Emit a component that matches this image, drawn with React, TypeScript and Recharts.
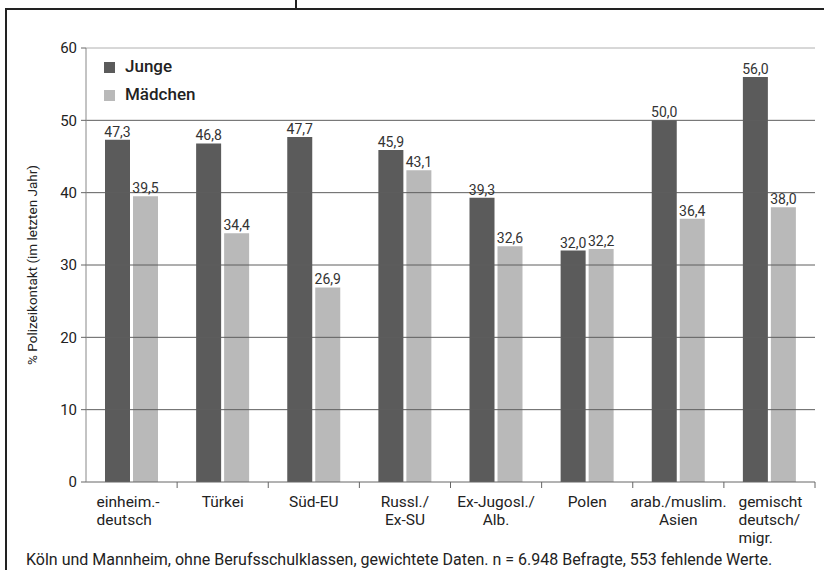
import React from "react";
import { BarChart, Bar, XAxis, YAxis, ReferenceLine, LabelList } from "recharts";

const categories = [
  "einheim.-\ndeutsch",
  "Türkei",
  "Süd-EU",
  "Russl./\nEx-SU",
  "Ex-Jugosl./\nAlb.",
  "Polen",
  "arab./muslim.\nAsien",
  "gemischt\ndeutsch/\nmigr.",
];
const junge = [47.3, 46.8, 47.7, 45.9, 39.3, 32.0, 50.0, 56.0];
const maedchen = [39.5, 34.4, 26.9, 43.1, 32.6, 32.2, 36.4, 38.0];
const yTicks = [0, 10, 20, 30, 40, 50, 60];
const seriesNames = ["Junge", "Mädchen"];
const yLabel = "% Polizeikontakt (im letzten Jahr)";
const footnote =
  "Köln und Mannheim, ohne Berufsschulklassen, gewichtete Daten. n = 6.948 Befragte, 553 fehlende Werte.";

const W = 824;
const H = 570;
const X_AXIS_H = 80;
const M = { top: 48, right: 9, bottom: 88 - X_AXIS_H, left: 0 };
const Y_AXIS_W = 86;
const PLOT_BOTTOM = H - M.bottom - X_AXIS_H;
const BAND = (W - M.left - Y_AXIS_W - M.right) / categories.length;
const FONT = "Roboto, 'DejaVu Sans', sans-serif";
const C_JUNGE = "#5b5b5b";
const C_MAED = "#b9b9b9";
const TEXT = "#222";

// alignment tweaks for multi-line labels that are left-aligned in the original
const leftAligned: Record<number, number> = { 0: -35, 7: -31 };

const data = categories.map((c, i) => ({ name: c, junge: junge[i], maedchen: maedchen[i] }));

const fmt = (v: any) => (typeof v === "number" ? v.toFixed(1).replace(".", ",") : v);

const XTick = (props: any) => {
  const { x, payload, index } = props;
  const lines = String(payload.value).split("\n");
  const off = leftAligned[index];
  const tx = off !== undefined ? x + off : x;
  const anchor = off !== undefined ? "start" : "middle";
  const bx = x + BAND / 2;
  return (
    <g>
      <line x1={bx} y1={PLOT_BOTTOM} x2={bx} y2={PLOT_BOTTOM + 6} stroke="#666" strokeWidth={1} />
      {lines.map((l, i) => (
        <text
          key={i}
          x={tx}
          y={507 + i * 18}
          textAnchor={anchor}
          fontSize={15.5}
          fontFamily={FONT}
          fill={TEXT}
        >
          {l}
        </text>
      ))}
    </g>
  );
};

const YLabel = () => (
  <text
    x={33}
    y={265}
    transform="rotate(-90 33 265)"
    textAnchor="middle"
    dominantBaseline="middle"
    fontSize={13.5}
    fontFamily={FONT}
    fill={TEXT}
  >
    {yLabel}
  </text>
);

export default function App() {
  return (
    <div style={{ position: "absolute", left: 0, top: 0, width: W, height: H, background: "#fff", overflow: "hidden" }}>
      <BarChart width={W} height={H} data={data} margin={M} barSize={25} barGap={3}>
        <XAxis
          dataKey="name"
          interval={0}
          tickLine={false}
          axisLine={{ stroke: "#666", strokeWidth: 1 }}
          tick={<XTick />}
          height={X_AXIS_H}
        />
        <YAxis
          type="number"
          domain={[0, 60]}
          ticks={yTicks}
          width={Y_AXIS_W}
          tickSize={5}
          tickMargin={4}
          axisLine={{ stroke: "#888", strokeWidth: 1 }}
          tickLine={{ stroke: "#666" }}
          tick={{ fontSize: 15, fontFamily: FONT, fill: TEXT }}
          label={<YLabel />}
        />
        {yTicks
          .filter((t) => t > 0)
          .map((t) => (
            <ReferenceLine
              key={t}
              y={t}
              stroke={t === 60 ? "#b0b0b0" : "#5e5e5e"}
              strokeWidth={1}
              ifOverflow="extendDomain"
            />
          ))}
        <Bar dataKey="junge" name={seriesNames[0]} fill={C_JUNGE} isAnimationActive={false}>
          <LabelList dataKey="junge" position="top" offset={3} formatter={fmt} fontSize={14} fontFamily={FONT} fill="#333" />
        </Bar>
        <Bar dataKey="maedchen" name={seriesNames[1]} fill={C_MAED} isAnimationActive={false}>
          <LabelList dataKey="maedchen" position="top" offset={3} formatter={fmt} fontSize={14} fontFamily={FONT} fill="#333" />
        </Bar>
      </BarChart>

      {/* legend */}
      {seriesNames.map((n, i) => (
        <div
          key={n}
          style={{
            position: "absolute",
            left: 104,
            top: 56 + i * 28,
            height: 20,
            display: "flex",
            alignItems: "center",
            fontFamily: FONT,
            fontSize: 17,
            fontWeight: 500,
            color: TEXT,
          }}
        >
          <span style={{ width: 11, height: 11, background: i === 0 ? C_JUNGE : C_MAED, marginRight: 10, marginTop: 2 }} />
          <span>{n}</span>
        </div>
      ))}

      {/* footnote */}
      <div
        style={{
          position: "absolute",
          left: 26,
          top: 552,
          fontFamily: FONT,
          fontSize: 16,
          lineHeight: "15px",
          color: TEXT,
          whiteSpace: "nowrap",
        }}
      >
        {footnote}
      </div>

      {/* frame */}
      <div style={{ position: "absolute", left: 5, top: 8, width: 2, height: H - 8, background: "#222" }} />
      <div style={{ position: "absolute", left: 5, top: 8, width: W - 5, height: 2, background: "#222" }} />
      <div style={{ position: "absolute", left: 295, top: 0, width: 2, height: 9, background: "#222" }} />
    </div>
  );
}
